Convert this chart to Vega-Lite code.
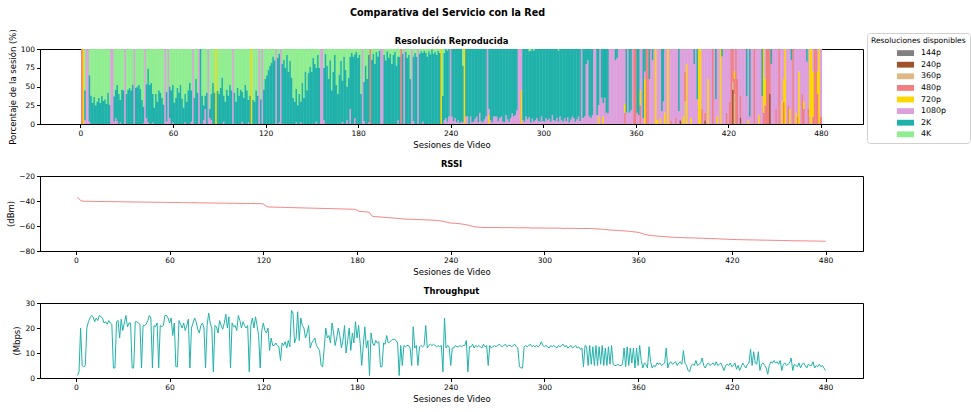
{
"$schema": "https://vega.github.io/schema/vega-lite/v6.json",
"padding": {"left": 6, "top": 7, "right": 0, "bottom": 0},
"bounds": "flush",
"spacing": 52,
"title": {"text": "Comparativa del Servicio con la Red", "fontSize": 9.6, "fontWeight": "bold", "font": "DejaVu Sans", "color": "#000", "anchor": "middle", "frame": "group", "offset": 11, "dx": -4},
"config": {
 "font": "DejaVu Sans",
 "view": {"stroke": "#000", "strokeWidth": 1},
 "axis": {"grid": false, "domainColor": "#000", "tickColor": "#000", "labelColor": "#000", "titleColor": "#000", "labelFontSize": 7.5, "titleFontSize": 8.5, "titleFontWeight": "normal", "tickSize": 3.5, "labelPadding": 2, "titlePadding": 3, "labelFont": "DejaVu Sans", "titleFont": "DejaVu Sans"},
 "title": {"font": "DejaVu Sans", "fontSize": 8.4, "fontWeight": "bold", "color": "#000", "offset": 4, "frame": "group"}
},
"datasets": {"orden": [
{"res":"144p","rank":1},{"res":"240p","rank":2},{"res":"360p","rank":3},{"res":"480p","rank":4},
{"res":"720p","rank":5},{"res":"1080p","rank":6},{"res":"2K","rank":7},{"res":"4K","rank":8}
]},
"data": {"values": [
{"s":1,"480p":100,"r":-37,"t":1},
{"s":2,"720p":100,"r":-38.2,"t":2.5},
{"s":3,"1080p":5,"2K":40,"4K":55,"r":-39.4,"t":20},
{"s":4,"1080p":100,"r":-40,"t":5},
{"s":5,"1080p":100,"r":-40.2,"t":4.5},
{"s":6,"1080p":3,"2K":62,"4K":35,"r":-40.2,"t":5},
{"s":7,"2K":38,"4K":62,"r":-40.2,"t":20},
{"s":8,"2K":28,"4K":72,"r":-40.2,"t":22.5},
{"s":9,"2K":36,"4K":64,"r":-40.3,"t":24},
{"s":10,"2K":25,"4K":75,"r":-40.3,"t":25},
{"s":11,"2K":30,"4K":70,"r":-40.3,"t":24.5},
{"s":12,"2K":35,"4K":65,"r":-40.3,"t":22.5},
{"s":13,"2K":28,"4K":72,"r":-40.4,"t":24},
{"s":14,"2K":38,"4K":62,"r":-40.4,"t":23},
{"s":15,"2K":31,"4K":69,"r":-40.4,"t":25},
{"s":16,"2K":33,"4K":67,"r":-40.4,"t":24.5},
{"s":17,"2K":27,"4K":73,"r":-40.4,"t":24},
{"s":18,"2K":42,"4K":58,"r":-40.4,"t":22},
{"s":19,"2K":26,"4K":74,"r":-40.5,"t":22.5},
{"s":20,"1080p":100,"r":-40.5,"t":21.5},
{"s":21,"1080p":100,"r":-40.5,"t":23},
{"s":22,"1080p":3,"2K":34,"4K":63,"r":-40.5,"t":22},
{"s":23,"1080p":8,"2K":38,"4K":54,"r":-40.5,"t":21.5},
{"s":24,"1080p":4,"2K":48,"4K":48,"r":-40.5,"t":4},
{"s":25,"2K":40,"4K":60,"r":-40.6,"t":4},
{"s":26,"1080p":2,"2K":30,"4K":68,"r":-40.6,"t":22.5},
{"s":27,"2K":46,"4K":54,"r":-40.6,"t":23},
{"s":28,"2K":45,"4K":55,"r":-40.6,"t":16},
{"s":29,"1080p":100,"r":-40.6,"t":23.5},
{"s":30,"2K":40,"4K":60,"r":-40.6,"t":19},
{"s":31,"2K":46,"4K":54,"r":-40.7,"t":22},
{"s":32,"2K":48,"4K":52,"r":-40.7,"t":25},
{"s":33,"2K":45,"4K":55,"r":-40.7,"t":20.5},
{"s":34,"2K":52,"4K":48,"r":-40.7,"t":22},
{"s":35,"1080p":100,"r":-40.7,"t":22},
{"s":36,"2K":48,"4K":52,"r":-40.7,"t":4},
{"s":37,"2K":50,"4K":50,"r":-40.8,"t":4},
{"s":38,"2K":52,"4K":48,"r":-40.8,"t":22.5},
{"s":39,"2K":47,"4K":53,"r":-40.8,"t":22.5},
{"s":40,"2K":32,"4K":68,"r":-40.8,"t":22},
{"s":41,"1080p":1,"2K":22,"4K":77,"r":-40.8,"t":21.5},
{"s":42,"1080p":100,"r":-40.8,"t":4},
{"s":43,"1080p":8,"2K":45,"4K":47,"r":-40.9,"t":21},
{"s":44,"1080p":2,"2K":72,"4K":26,"r":-40.9,"t":21},
{"s":45,"2K":52,"4K":48,"r":-40.9,"t":21.5},
{"s":46,"2K":55,"4K":45,"r":-40.9,"t":23},
{"s":47,"1080p":2,"2K":38,"4K":60,"r":-40.9,"t":25},
{"s":48,"2K":22,"4K":78,"r":-40.9,"t":24},
{"s":49,"2K":40,"4K":60,"r":-41,"t":4},
{"s":50,"2K":30,"4K":70,"r":-41,"t":21},
{"s":51,"2K":45,"4K":55,"r":-41,"t":20.5},
{"s":52,"2K":42,"4K":58,"r":-41,"t":22},
{"s":53,"2K":35,"4K":65,"r":-41,"t":4},
{"s":54,"2K":26,"4K":74,"r":-41,"t":21},
{"s":55,"1080p":100,"r":-41.1,"t":20.5},
{"s":56,"1080p":3,"2K":40,"4K":57,"r":-41.1,"t":21},
{"s":57,"1080p":100,"r":-41.1,"t":25},
{"s":58,"1080p":8,"2K":42,"4K":50,"r":-41.1,"t":25},
{"s":59,"2K":45,"4K":55,"r":-41.1,"t":24},
{"s":60,"1080p":2,"2K":50,"4K":48,"r":-41.1,"t":22},
{"s":61,"2K":28,"4K":72,"r":-41.2,"t":24},
{"s":62,"2K":35,"4K":65,"r":-41.2,"t":17},
{"s":63,"2K":48,"4K":52,"r":-41.2,"t":22},
{"s":64,"2K":42,"4K":58,"r":-41.2,"t":4.5},
{"s":65,"2K":52,"4K":48,"r":-41.2,"t":4.5},
{"s":66,"2K":34,"4K":66,"r":-41.2,"t":23},
{"s":67,"2K":22,"4K":78,"r":-41.3,"t":21.5},
{"s":68,"1080p":2,"2K":38,"4K":60,"r":-41.3,"t":20},
{"s":69,"2K":30,"4K":70,"r":-41.3,"t":22},
{"s":70,"2K":45,"4K":55,"r":-41.3,"t":19},
{"s":71,"2K":55,"4K":45,"r":-41.3,"t":21},
{"s":72,"1080p":3,"2K":42,"4K":55,"r":-41.3,"t":23.5},
{"s":73,"1080p":100,"r":-41.4,"t":4},
{"s":74,"2K":35,"4K":65,"r":-41.4,"t":20},
{"s":75,"2K":60,"4K":40,"r":-41.4,"t":22},
{"s":76,"2K":42,"4K":58,"r":-41.4,"t":24},
{"s":77,"1080p":100,"r":-41.4,"t":22.5},
{"s":78,"2K":100,"r":-41.4,"t":19.5},
{"s":79,"2K":38,"4K":62,"r":-41.5,"t":18},
{"s":80,"1080p":5,"2K":20,"4K":75,"r":-41.5,"t":21},
{"s":81,"1080p":20,"2K":18,"4K":62,"r":-41.5,"t":22},
{"s":82,"2K":42,"4K":58,"r":-41.5,"t":20},
{"s":83,"1080p":100,"r":-41.5,"t":4},
{"s":84,"1080p":8,"2K":12,"4K":80,"r":-41.5,"t":21},
{"s":85,"1080p":5,"2K":35,"4K":60,"r":-41.6,"t":26},
{"s":86,"2K":55,"4K":45,"r":-41.6,"t":22},
{"s":87,"2K":42,"4K":58,"r":-41.6,"t":20},
{"s":88,"720p":100,"r":-41.6,"t":2.5},
{"s":89,"2K":44,"4K":56,"r":-41.6,"t":21},
{"s":90,"2K":40,"4K":60,"r":-41.6,"t":20.5},
{"s":91,"2K":48,"4K":52,"r":-41.7,"t":18},
{"s":92,"2K":62,"4K":38,"r":-41.7,"t":23},
{"s":93,"1080p":3,"2K":35,"4K":62,"r":-41.7,"t":21},
{"s":94,"2K":30,"4K":70,"r":-41.7,"t":19.5},
{"s":95,"2K":46,"4K":54,"r":-41.7,"t":22},
{"s":96,"2K":38,"4K":62,"r":-41.7,"t":25.5},
{"s":97,"2K":52,"4K":48,"r":-41.8,"t":20},
{"s":98,"2K":45,"4K":55,"r":-41.8,"t":24.5},
{"s":99,"1080p":100,"r":-41.8,"t":4},
{"s":100,"2K":42,"4K":58,"r":-41.8,"t":22},
{"s":101,"2K":30,"4K":70,"r":-41.8,"t":20.5},
{"s":102,"2K":48,"4K":52,"r":-41.8,"t":21},
{"s":103,"2K":38,"4K":62,"r":-41.9,"t":19},
{"s":104,"2K":46,"4K":54,"r":-41.9,"t":25},
{"s":105,"1080p":3,"2K":40,"4K":57,"r":-41.9,"t":23},
{"s":106,"2K":35,"4K":65,"r":-41.9,"t":20},
{"s":107,"2K":52,"4K":48,"r":-41.9,"t":22.5},
{"s":108,"2K":45,"4K":55,"r":-41.9,"t":21},
{"s":109,"1080p":2,"2K":30,"4K":68,"r":-42,"t":20},
{"s":110,"2K":38,"4K":62,"r":-42,"t":21},
{"s":111,"720p":100,"r":-42,"t":2.5},
{"s":112,"2K":32,"4K":68,"r":-42,"t":21},
{"s":113,"2K":30,"4K":70,"r":-42,"t":24},
{"s":114,"2K":45,"4K":55,"r":-42,"t":20},
{"s":115,"2K":38,"4K":62,"r":-42.1,"t":24.5},
{"s":116,"1080p":100,"r":-42.1,"t":21},
{"s":117,"2K":33,"4K":67,"r":-42.1,"t":17},
{"s":118,"1080p":100,"r":-42.1,"t":4},
{"s":119,"2K":46,"4K":54,"r":-42.2,"t":19},
{"s":120,"2K":60,"4K":40,"r":-42.4,"t":22},
{"s":121,"2K":65,"4K":35,"r":-43.4,"t":19},
{"s":122,"2K":72,"4K":28,"r":-44.3,"t":18},
{"s":123,"2K":78,"4K":22,"r":-44.7,"t":20},
{"s":124,"2K":82,"4K":18,"r":-44.8,"t":11},
{"s":125,"2K":90,"4K":10,"r":-44.8,"t":16},
{"s":126,"2K":85,"4K":15,"r":-44.9,"t":13},
{"s":127,"1080p":100,"r":-44.9,"t":13},
{"s":128,"2K":88,"4K":12,"r":-44.9,"t":14},
{"s":129,"1080p":2,"2K":92,"4K":6,"r":-45,"t":13},
{"s":130,"1080p":100,"r":-45,"t":12.5},
{"s":131,"2K":80,"4K":20,"r":-45,"t":7},
{"s":132,"2K":86,"4K":14,"r":-45.1,"t":14},
{"s":133,"2K":75,"4K":25,"r":-45.1,"t":13},
{"s":134,"2K":92,"4K":8,"r":-45.1,"t":14.5},
{"s":135,"2K":70,"4K":30,"r":-45.2,"t":12},
{"s":136,"2K":84,"4K":16,"r":-45.2,"t":15},
{"s":137,"2K":62,"4K":38,"r":-45.2,"t":12.5},
{"s":138,"2K":35,"4K":65,"r":-45.3,"t":27},
{"s":139,"2K":30,"4K":70,"r":-45.3,"t":26},
{"s":140,"1080p":2,"2K":45,"4K":53,"r":-45.3,"t":14},
{"s":141,"2K":25,"4K":75,"r":-45.4,"t":16},
{"s":142,"2K":40,"4K":60,"r":-45.4,"t":26.5},
{"s":143,"1080p":2,"2K":28,"4K":70,"r":-45.4,"t":15},
{"s":144,"2K":55,"4K":45,"r":-45.5,"t":24},
{"s":145,"2K":35,"4K":65,"r":-45.5,"t":21},
{"s":146,"2K":70,"4K":30,"r":-45.5,"t":20},
{"s":147,"2K":45,"4K":55,"r":-45.6,"t":16},
{"s":148,"2K":68,"4K":32,"r":-45.6,"t":18},
{"s":149,"2K":76,"4K":24,"r":-45.6,"t":21},
{"s":150,"2K":70,"4K":30,"r":-45.7,"t":12},
{"s":151,"2K":88,"4K":12,"r":-45.7,"t":14},
{"s":152,"2K":80,"4K":20,"r":-45.7,"t":15},
{"s":153,"1080p":3,"2K":72,"4K":25,"r":-45.8,"t":16},
{"s":154,"2K":92,"4K":8,"r":-45.8,"t":13},
{"s":155,"2K":75,"4K":25,"r":-45.8,"t":12},
{"s":156,"1080p":100,"r":-45.9,"t":11},
{"s":157,"1080p":100,"r":-45.9,"t":5},
{"s":158,"1080p":5,"2K":70,"4K":25,"r":-45.9,"t":4.5},
{"s":159,"2K":94,"4K":6,"r":-46,"t":12},
{"s":160,"2K":78,"4K":22,"r":-46,"t":20},
{"s":161,"2K":60,"4K":40,"r":-46,"t":16},
{"s":162,"2K":85,"4K":15,"r":-46.1,"t":17},
{"s":163,"2K":45,"4K":55,"r":-46.1,"t":14},
{"s":164,"2K":70,"4K":30,"r":-46.1,"t":22},
{"s":165,"2K":92,"4K":8,"r":-46.2,"t":18},
{"s":166,"2K":52,"4K":48,"r":-46.2,"t":13},
{"s":167,"2K":40,"4K":60,"r":-46.2,"t":16},
{"s":168,"2K":66,"4K":34,"r":-46.3,"t":20},
{"s":169,"2K":84,"4K":16,"r":-46.3,"t":17},
{"s":170,"1080p":3,"2K":55,"4K":42,"r":-46.3,"t":12},
{"s":171,"2K":90,"4K":10,"r":-46.4,"t":15},
{"s":172,"2K":72,"4K":28,"r":-46.4,"t":21},
{"s":173,"1080p":5,"2K":45,"4K":50,"r":-46.4,"t":10},
{"s":174,"2K":62,"4K":38,"r":-46.5,"t":15},
{"s":175,"1080p":20,"2K":70,"4K":10,"r":-46.5,"t":20},
{"s":176,"2K":95,"4K":5,"r":-46.5,"t":11},
{"s":177,"2K":90,"4K":10,"r":-46.6,"t":18},
{"s":178,"1080p":8,"2K":85,"4K":7,"r":-46.6,"t":14},
{"s":179,"2K":96,"4K":4,"r":-46.7,"t":22.5},
{"s":180,"2K":88,"4K":12,"r":-47.4,"t":16},
{"s":181,"2K":92,"4K":8,"r":-48.1,"t":21},
{"s":182,"2K":40,"4K":60,"r":-48.3,"t":14},
{"s":183,"1080p":100,"r":-48.4,"t":5},
{"s":184,"1080p":4,"2K":52,"4K":44,"r":-48.5,"t":13},
{"s":185,"2K":78,"4K":22,"r":-48.6,"t":20.5},
{"s":186,"2K":60,"4K":40,"r":-48.7,"t":12},
{"s":187,"1080p":2,"2K":90,"4K":8,"r":-48.8,"t":15},
{"s":188,"480p":100,"r":-49.3,"t":1},
{"s":189,"2K":86,"4K":14,"r":-51.2,"t":18},
{"s":190,"2K":94,"4K":6,"r":-52.2,"t":14},
{"s":191,"2K":80,"4K":20,"r":-52.4,"t":13},
{"s":192,"2K":96,"4K":4,"r":-52.5,"t":15},
{"s":193,"2K":90,"4K":10,"r":-52.6,"t":14},
{"s":194,"2K":98,"4K":2,"r":-52.7,"t":14.5},
{"s":195,"1080p":100,"r":-52.8,"t":4.5},
{"s":196,"1080p":100,"r":-52.9,"t":4.5},
{"s":197,"2K":92,"4K":8,"r":-53,"t":14},
{"s":198,"2K":85,"4K":15,"r":-53.1,"t":13.5},
{"s":199,"2K":97,"4K":3,"r":-53.2,"t":17},
{"s":200,"2K":88,"4K":12,"r":-53.3,"t":14},
{"s":201,"2K":94,"4K":6,"r":-53.4,"t":14.5},
{"s":202,"2K":80,"4K":20,"r":-53.5,"t":15},
{"s":203,"2K":92,"4K":8,"r":-53.6,"t":15.5},
{"s":204,"2K":96,"4K":4,"r":-53.7,"t":15.5},
{"s":205,"2K":78,"4K":22,"r":-53.8,"t":15},
{"s":206,"1080p":5,"2K":85,"4K":10,"r":-53.9,"t":14},
{"s":207,"2K":90,"4K":10,"r":-54,"t":1},
{"s":208,"480p":100,"r":-54.1,"t":13},
{"s":209,"2K":94,"4K":6,"r":-54.3,"t":5},
{"s":210,"1080p":100,"r":-54.4,"t":13},
{"s":211,"2K":96,"4K":4,"r":-54.4,"t":12.5},
{"s":212,"2K":88,"4K":12,"r":-54.5,"t":13},
{"s":213,"2K":92,"4K":8,"r":-54.5,"t":13},
{"s":214,"2K":60,"4K":40,"r":-54.6,"t":12},
{"s":215,"1080p":100,"r":-54.6,"t":5},
{"s":216,"1080p":4,"2K":86,"4K":10,"r":-54.7,"t":20.5},
{"s":217,"2K":95,"4K":5,"r":-54.7,"t":12},
{"s":218,"2K":90,"4K":10,"r":-54.8,"t":13},
{"s":219,"1080p":100,"r":-54.8,"t":5},
{"s":220,"2K":94,"4K":6,"r":-54.9,"t":12.5},
{"s":221,"2K":97,"4K":3,"r":-54.9,"t":13},
{"s":222,"1080p":3,"2K":92,"4K":5,"r":-55,"t":12.5},
{"s":223,"2K":98,"4K":2,"r":-55,"t":13},
{"s":224,"2K":95,"4K":5,"r":-55.1,"t":21},
{"s":225,"2K":90,"4K":10,"r":-55.1,"t":12},
{"s":226,"2K":97,"4K":3,"r":-55.2,"t":13},
{"s":227,"2K":93,"4K":7,"r":-55.2,"t":13.5},
{"s":228,"2K":99,"4K":1,"r":-55.3,"t":13},
{"s":229,"2K":94,"4K":6,"r":-55.4,"t":13.5},
{"s":230,"2K":96,"4K":4,"r":-55.5,"t":13},
{"s":231,"2K":92,"4K":8,"r":-55.6,"t":12.5},
{"s":232,"2K":98,"4K":2,"r":-55.7,"t":13},
{"s":233,"2K":95,"4K":5,"r":-55.8,"t":12.5},
{"s":234,"720p":100,"r":-56,"t":13},
{"s":235,"2K":38,"4K":62,"r":-56.2,"t":2.5},
{"s":236,"1080p":5,"2K":90,"4K":5,"r":-56.5,"t":24},
{"s":237,"1080p":8,"2K":92,"r":-56.8,"t":12},
{"s":238,"1080p":3,"2K":95,"4K":2,"r":-57.1,"t":13},
{"s":239,"1080p":10,"2K":90,"r":-57.4,"t":12.5},
{"s":240,"1080p":100,"r":-57.6,"t":5},
{"s":241,"1080p":10,"2K":90,"r":-57.7,"t":12},
{"s":242,"1080p":4,"2K":96,"r":-57.8,"t":12},
{"s":243,"1080p":8,"2K":92,"r":-57.9,"t":13},
{"s":244,"1080p":2,"2K":98,"r":-58,"t":12.5},
{"s":245,"1080p":5,"2K":95,"r":-58.1,"t":12.5},
{"s":246,"1080p":1,"2K":99,"r":-58.2,"t":13},
{"s":247,"1080p":3,"2K":97,"r":-58.4,"t":12.5},
{"s":248,"1080p":2,"2K":76,"4K":22,"r":-58.6,"t":13},
{"s":249,"720p":100,"r":-58.8,"t":13},
{"s":250,"1080p":10,"2K":90,"r":-59,"t":15},
{"s":251,"1080p":10,"2K":90,"r":-59.3,"t":2.5},
{"s":252,"2K":100,"r":-59.6,"t":12.5},
{"s":253,"1080p":10,"2K":90,"r":-59.9,"t":12.5},
{"s":254,"1080p":2,"2K":98,"r":-60.2,"t":13.5},
{"s":255,"1080p":3,"2K":97,"r":-60.5,"t":12},
{"s":256,"1080p":7,"2K":93,"r":-60.7,"t":13},
{"s":257,"1080p":10,"2K":90,"r":-60.8,"t":12.5},
{"s":258,"1080p":2,"2K":98,"r":-60.9,"t":13},
{"s":259,"1080p":15,"2K":85,"r":-61,"t":12.5},
{"s":260,"1080p":4,"2K":96,"r":-61.1,"t":12},
{"s":261,"1080p":2,"2K":98,"r":-61.2,"t":13.5},
{"s":262,"1080p":6,"2K":94,"r":-61.2,"t":12.5},
{"s":263,"1080p":10,"2K":90,"r":-61.2,"t":13},
{"s":264,"1080p":100,"r":-61.2,"t":5},
{"s":265,"720p":12,"1080p":8,"2K":80,"r":-61.2,"t":13},
{"s":266,"1080p":5,"2K":95,"r":-61.2,"t":12},
{"s":267,"1080p":2,"2K":98,"r":-61.2,"t":12.5},
{"s":268,"1080p":10,"2K":90,"r":-61.2,"t":13},
{"s":269,"1080p":10,"2K":90,"r":-61.2,"t":12.5},
{"s":270,"1080p":10,"2K":90,"r":-61.2,"t":13},
{"s":271,"1080p":4,"2K":96,"r":-61.3,"t":13.5},
{"s":272,"1080p":8,"2K":92,"r":-61.3,"t":13},
{"s":273,"1080p":10,"2K":90,"r":-61.3,"t":12.5},
{"s":274,"1080p":3,"2K":97,"r":-61.3,"t":13},
{"s":275,"1080p":2,"2K":98,"r":-61.3,"t":13.5},
{"s":276,"1080p":12,"2K":88,"r":-61.3,"t":12.5},
{"s":277,"1080p":6,"2K":94,"r":-61.3,"t":13},
{"s":278,"1080p":3,"2K":97,"r":-61.3,"t":13},
{"s":279,"1080p":8,"2K":92,"r":-61.3,"t":12.5},
{"s":280,"1080p":14,"2K":86,"r":-61.3,"t":13},
{"s":281,"1080p":10,"2K":90,"r":-61.4,"t":13.5},
{"s":282,"1080p":12,"2K":88,"r":-61.4,"t":12.5},
{"s":283,"1080p":18,"2K":82,"r":-61.4,"t":12},
{"s":284,"1080p":100,"r":-61.4,"t":4.5},
{"s":285,"1080p":100,"r":-61.4,"t":4},
{"s":286,"720p":45,"1080p":55,"r":-61.4,"t":4},
{"s":287,"1080p":5,"2K":95,"r":-61.4,"t":12.5},
{"s":288,"1080p":3,"2K":97,"r":-61.4,"t":13},
{"s":289,"1080p":10,"2K":90,"r":-61.4,"t":12.5},
{"s":290,"1080p":6,"2K":94,"r":-61.4,"t":13},
{"s":291,"1080p":9,"2K":88,"4K":3,"r":-61.6,"t":13.5},
{"s":292,"1080p":2,"2K":96,"4K":2,"r":-61.6,"t":12.5},
{"s":293,"1080p":7,"2K":93,"r":-61.6,"t":13},
{"s":294,"1080p":3,"2K":95,"4K":2,"r":-61.6,"t":12.5},
{"s":295,"1080p":5,"2K":95,"r":-61.6,"t":13},
{"s":296,"1080p":8,"2K":92,"r":-61.6,"t":12.5},
{"s":297,"1080p":4,"2K":96,"r":-61.6,"t":13},
{"s":298,"1080p":3,"2K":97,"r":-61.6,"t":14.5},
{"s":299,"1080p":10,"2K":90,"r":-61.6,"t":13},
{"s":300,"1080p":4,"2K":96,"r":-61.6,"t":12.5},
{"s":301,"1080p":3,"2K":97,"r":-61.7,"t":13},
{"s":302,"1080p":8,"2K":92,"r":-61.7,"t":12.5},
{"s":303,"1080p":5,"2K":95,"r":-61.7,"t":12},
{"s":304,"1080p":7,"2K":93,"r":-61.7,"t":13},
{"s":305,"1080p":3,"2K":97,"r":-61.7,"t":12.5},
{"s":306,"1080p":12,"2K":88,"r":-61.7,"t":13},
{"s":307,"1080p":5,"2K":95,"r":-61.7,"t":12.5},
{"s":308,"1080p":4,"2K":96,"r":-61.7,"t":12},
{"s":309,"1080p":8,"2K":92,"r":-61.7,"t":13},
{"s":310,"1080p":3,"2K":95,"4K":2,"r":-61.7,"t":12.5},
{"s":311,"1080p":10,"2K":90,"r":-61.9,"t":13},
{"s":312,"1080p":5,"2K":95,"r":-61.9,"t":13.5},
{"s":313,"1080p":3,"2K":97,"r":-61.9,"t":12.5},
{"s":314,"1080p":8,"2K":92,"r":-61.9,"t":13},
{"s":315,"1080p":4,"2K":96,"r":-61.9,"t":12},
{"s":316,"1080p":9,"2K":91,"r":-61.9,"t":12.5},
{"s":317,"1080p":2,"2K":98,"r":-61.9,"t":13},
{"s":318,"1080p":6,"2K":94,"r":-61.9,"t":12},
{"s":319,"1080p":10,"2K":90,"r":-61.9,"t":12.5},
{"s":320,"1080p":8,"2K":92,"r":-61.9,"t":13},
{"s":321,"1080p":3,"2K":97,"r":-62,"t":12},
{"s":322,"1080p":6,"2K":94,"r":-62,"t":12.5},
{"s":323,"1080p":10,"2K":90,"r":-62,"t":11.5},
{"s":324,"1080p":4,"2K":96,"r":-62,"t":12},
{"s":325,"1080p":100,"r":-62,"t":4.5},
{"s":326,"1080p":8,"2K":92,"r":-62,"t":13},
{"s":327,"1080p":10,"2K":90,"r":-62,"t":12.5},
{"s":328,"1080p":80,"2K":20,"r":-62,"t":5},
{"s":329,"1080p":85,"2K":15,"r":-62,"t":13},
{"s":330,"1080p":10,"2K":90,"r":-62,"t":5.5},
{"s":331,"1080p":8,"2K":92,"r":-62.1,"t":12.5},
{"s":332,"1080p":12,"2K":88,"r":-62.2,"t":5},
{"s":333,"1080p":100,"r":-62.3,"t":13},
{"s":334,"1080p":100,"r":-62.3,"t":5},
{"s":335,"1080p":12,"2K":88,"r":-62.4,"t":12.5},
{"s":336,"720p":10,"1080p":15,"2K":75,"r":-62.5,"t":5.5},
{"s":337,"1080p":100,"r":-62.6,"t":13},
{"s":338,"1080p":35,"2K":65,"r":-62.7,"t":5},
{"s":339,"720p":10,"1080p":18,"2K":72,"r":-62.8,"t":12},
{"s":340,"1080p":35,"2K":65,"r":-62.9,"t":5},
{"s":341,"1080p":15,"2K":85,"r":-63,"t":12.5},
{"s":342,"1080p":14,"2K":86,"r":-63.2,"t":5.5},
{"s":343,"1080p":100,"r":-63.3,"t":13},
{"s":344,"1080p":100,"r":-63.4,"t":5.5},
{"s":345,"1080p":100,"r":-63.4,"t":5},
{"s":346,"1080p":100,"r":-63.5,"t":5},
{"s":347,"1080p":85,"2K":15,"r":-63.6,"t":5.5},
{"s":348,"1080p":88,"2K":12,"r":-63.7,"t":5},
{"s":349,"1080p":100,"r":-63.7,"t":5},
{"s":350,"1080p":100,"r":-63.8,"t":5.5},
{"s":351,"1080p":100,"r":-63.9,"t":12},
{"s":352,"1080p":100,"r":-64,"t":4.5},
{"s":353,"480p":15,"720p":12,"1080p":73,"r":-64.1,"t":12.5},
{"s":354,"1080p":15,"2K":85,"r":-64.2,"t":5},
{"s":355,"1080p":100,"r":-64.4,"t":12},
{"s":356,"1080p":15,"2K":85,"r":-64.5,"t":6},
{"s":357,"1080p":18,"2K":82,"r":-64.6,"t":12},
{"s":358,"1080p":100,"r":-64.8,"t":4},
{"s":359,"480p":100,"r":-64.9,"t":12},
{"s":360,"480p":100,"r":-65.1,"t":5},
{"s":361,"1080p":15,"2K":85,"r":-65.4,"t":13},
{"s":362,"1080p":12,"2K":88,"r":-65.8,"t":7},
{"s":363,"480p":25,"720p":20,"1080p":55,"r":-66.2,"t":4},
{"s":364,"1080p":100,"r":-66.6,"t":6},
{"s":365,"1080p":8,"2K":92,"r":-66.9,"t":5.5},
{"s":366,"720p":60,"1080p":10,"2K":30,"r":-67.2,"t":4},
{"s":367,"480p":100,"r":-67.4,"t":12.5},
{"s":368,"480p":100,"r":-67.5,"t":6.5},
{"s":369,"1080p":60,"2K":40,"r":-67.7,"t":4},
{"s":370,"1080p":100,"r":-67.8,"t":5},
{"s":371,"1080p":85,"2K":15,"r":-67.9,"t":4.5},
{"s":372,"1080p":100,"r":-68,"t":6},
{"s":373,"720p":100,"r":-68.1,"t":5.5},
{"s":374,"720p":5,"1080p":95,"r":-68.2,"t":6},
{"s":375,"1080p":100,"r":-68.3,"t":5},
{"s":376,"720p":8,"1080p":92,"r":-68.4,"t":5.5},
{"s":377,"1080p":17,"2K":83,"r":-68.5,"t":6},
{"s":378,"1080p":30,"2K":70,"r":-68.6,"t":12},
{"s":379,"720p":15,"1080p":85,"r":-68.7,"t":4},
{"s":380,"1080p":100,"r":-68.8,"t":6},
{"s":381,"720p":100,"r":-68.9,"t":6.5},
{"s":382,"1080p":100,"r":-69,"t":5.5},
{"s":383,"480p":5,"1080p":95,"r":-69,"t":6},
{"s":384,"1080p":100,"r":-69.1,"t":6.5},
{"s":385,"1080p":100,"r":-69.1,"t":5},
{"s":386,"480p":8,"1080p":92,"r":-69.2,"t":6},
{"s":387,"1080p":100,"r":-69.2,"t":6.5},
{"s":388,"1080p":17,"2K":83,"r":-69.3,"t":5.5},
{"s":389,"240p":5,"1080p":95,"r":-69.3,"t":11},
{"s":390,"1080p":100,"r":-69.4,"t":6},
{"s":391,"720p":10,"1080p":90,"r":-69.4,"t":5},
{"s":392,"360p":30,"480p":40,"1080p":30,"r":-69.4,"t":3},
{"s":393,"720p":80,"1080p":20,"r":-69.5,"t":2.5},
{"s":394,"1080p":100,"r":-69.5,"t":5},
{"s":395,"1080p":100,"r":-69.5,"t":5.5},
{"s":396,"720p":8,"1080p":92,"r":-69.6,"t":5},
{"s":397,"1080p":100,"r":-69.6,"t":7},
{"s":398,"1080p":80,"2K":20,"r":-69.7,"t":5},
{"s":399,"1080p":100,"r":-69.7,"t":5.5},
{"s":400,"1080p":33,"2K":67,"r":-69.8,"t":6},
{"s":401,"720p":100,"r":-69.8,"t":8},
{"s":402,"720p":100,"r":-69.8,"t":5},
{"s":403,"480p":20,"1080p":80,"r":-69.9,"t":4},
{"s":404,"1080p":100,"r":-69.9,"t":5.5},
{"s":405,"240p":5,"480p":10,"1080p":85,"r":-70,"t":6},
{"s":406,"1080p":100,"r":-70,"t":5},
{"s":407,"720p":60,"1080p":40,"r":-70.1,"t":5.5},
{"s":408,"1080p":100,"r":-70.1,"t":6},
{"s":409,"1080p":100,"r":-70.2,"t":5},
{"s":410,"480p":100,"r":-70.2,"t":6.5},
{"s":411,"1080p":100,"r":-70.3,"t":5},
{"s":412,"1080p":33,"2K":67,"r":-70.3,"t":5.5},
{"s":413,"720p":10,"1080p":90,"r":-70.4,"t":6},
{"s":414,"1080p":100,"r":-70.4,"t":4.5},
{"s":415,"720p":100,"r":-70.5,"t":3},
{"s":416,"1080p":90,"2K":10,"r":-70.5,"t":5},
{"s":417,"1080p":100,"r":-70.6,"t":5.5},
{"s":418,"1080p":100,"r":-70.7,"t":5},
{"s":419,"480p":15,"1080p":85,"r":-70.8,"t":6},
{"s":420,"1080p":100,"r":-70.8,"t":4.5},
{"s":421,"480p":30,"1080p":70,"r":-70.8,"t":5},
{"s":422,"480p":100,"r":-70.8,"t":6},
{"s":423,"240p":46,"360p":10,"480p":44,"r":-70.9,"t":3.5},
{"s":424,"360p":40,"480p":20,"720p":10,"1080p":30,"r":-70.9,"t":5},
{"s":425,"480p":100,"r":-70.9,"t":3},
{"s":426,"480p":60,"1080p":40,"r":-70.9,"t":4.5},
{"s":427,"1080p":100,"r":-71,"t":6},
{"s":428,"240p":8,"480p":30,"1080p":62,"r":-71,"t":5},
{"s":429,"1080p":100,"r":-71,"t":4},
{"s":430,"1080p":100,"r":-71,"t":5.5},
{"s":431,"1080p":100,"r":-71.1,"t":6},
{"s":432,"1080p":37,"2K":63,"r":-71.1,"t":11.5},
{"s":433,"720p":5,"1080p":95,"r":-71.1,"t":5},
{"s":434,"1080p":10,"2K":90,"r":-71.1,"t":10.5},
{"s":435,"1080p":100,"r":-71.2,"t":6},
{"s":436,"1080p":100,"r":-71.2,"t":5.5},
{"s":437,"480p":100,"r":-71.2,"t":10.5},
{"s":438,"1080p":100,"r":-71.2,"t":3},
{"s":439,"1080p":100,"r":-71.3,"t":5.5},
{"s":440,"720p":12,"1080p":88,"r":-71.3,"t":6},
{"s":441,"1080p":100,"r":-71.3,"t":5},
{"s":442,"1080p":37,"2K":63,"r":-71.3,"t":4},
{"s":443,"480p":15,"720p":85,"r":-71.4,"t":1.5},
{"s":444,"480p":25,"720p":35,"1080p":40,"r":-71.4,"t":5},
{"s":445,"480p":100,"r":-71.4,"t":6.5},
{"s":446,"480p":100,"r":-71.4,"t":6},
{"s":447,"240p":40,"480p":60,"r":-71.5,"t":7},
{"s":448,"1080p":80,"2K":20,"r":-71.5,"t":6},
{"s":449,"1080p":100,"r":-71.5,"t":6.5},
{"s":450,"1080p":100,"r":-71.5,"t":5.5},
{"s":451,"480p":20,"1080p":80,"r":-71.6,"t":7},
{"s":452,"1080p":100,"r":-71.6,"t":3},
{"s":453,"480p":100,"r":-71.6,"t":5.5},
{"s":454,"1080p":100,"r":-71.6,"t":6},
{"s":455,"720p":30,"1080p":70,"r":-71.7,"t":5},
{"s":456,"480p":30,"720p":30,"1080p":40,"r":-71.7,"t":5.5},
{"s":457,"720p":100,"r":-71.7,"t":6},
{"s":458,"1080p":100,"r":-71.7,"t":8},
{"s":459,"480p":25,"1080p":75,"r":-71.8,"t":3},
{"s":460,"720p":20,"1080p":80,"r":-71.8,"t":5.5},
{"s":461,"1080p":85,"2K":15,"r":-71.8,"t":5},
{"s":462,"480p":100,"r":-71.8,"t":4.5},
{"s":463,"1080p":100,"r":-71.8,"t":6},
{"s":464,"720p":15,"1080p":85,"r":-71.9,"t":4},
{"s":465,"480p":10,"1080p":90,"r":-71.9,"t":5.5},
{"s":466,"720p":70,"1080p":30,"r":-71.9,"t":6},
{"s":467,"1080p":100,"r":-71.9,"t":5},
{"s":468,"480p":40,"1080p":60,"r":-71.9,"t":4},
{"s":469,"480p":20,"720p":10,"1080p":70,"r":-72,"t":5.5},
{"s":470,"1080p":100,"r":-72,"t":5},
{"s":471,"1080p":83,"2K":17,"r":-72,"t":5},
{"s":472,"480p":20,"1080p":80,"r":-72,"t":6.5},
{"s":473,"360p":10,"720p":90,"r":-72,"t":4},
{"s":474,"720p":100,"r":-72.1,"t":5},
{"s":475,"480p":10,"720p":60,"1080p":30,"r":-72.1,"t":4.5},
{"s":476,"480p":100,"r":-72.1,"t":5.5},
{"s":477,"480p":100,"r":-72.1,"t":4.5},
{"s":478,"480p":40,"720p":30,"1080p":30,"r":-72.2,"t":5},
{"s":479,"720p":100,"r":-72.2,"t":4},
{"s":480,"480p":10,"1080p":90,"r":-72.2,"t":3}
]},
"vconcat": [
{
 "width": 823, "height": 75,
 "title": {"text": "Resolución Reproducida", "dy": 21},
 "transform": [
  {"fold": ["144p","240p","360p","480p","720p","1080p","2K","4K"], "as": ["res","pct"]},
  {"filter": "isValid(datum.pct) && datum.pct > 0"},
  {"lookup": "res", "from": {"data": {"name": "orden"}, "key": "res", "fields": ["rank"]}}
 ],
 "mark": {"type": "bar", "width": 2},
 "encoding": {
  "x": {"field": "s", "type": "quantitative", "scale": {"domain": [-23, 504], "nice": false, "zero": false}, "axis": {"values": [0,60,120,180,240,300,360,420,480], "title": "Sesiones de Video"}},
  "y": {"field": "pct", "type": "quantitative", "stack": "zero", "scale": {"domain": [0, 100], "nice": false}, "axis": {"values": [0,25,50,75,100], "title": "Porcentaje de la sesión (%)"}},
  "order": {"field": "rank", "type": "quantitative", "sort": "ascending"},
  "color": {"field": "res", "type": "nominal",
   "scale": {"domain": ["144p","240p","360p","480p","720p","1080p","2K","4K"], "range": ["#808080","#a0522d","#deb887","#f08080","#ffd700","#dda0dd","#20b2aa","#90ee90"]},
   "legend": {"title": "Resoluciones disponibles", "orient": "none", "legendX": 827, "legendY": -16,
    "titleFontSize": 7.6, "titleFontWeight": "normal", "titleColor": "#000", "titlePadding": 4, "titleFont": "DejaVu Sans",
    "labelFontSize": 7.9, "labelColor": "#000", "labelFont": "DejaVu Sans",
    "symbolType": "M-1.9,-0.65H1.9V0.65H-1.9Z", "symbolSize": 81, "symbolStrokeWidth": 0, "symbolOpacity": 1,
    "symbolOffset": 30, "labelOffset": 11, "rowPadding": 2.6,
    "padding": 4, "strokeColor": "#d0d0d0", "fillColor": "white", "cornerRadius": 3}}
 }
},
{
 "width": 823, "height": 75,
 "title": {"text": "RSSI"},
 "mark": {"type": "line", "color": "#f08080", "strokeWidth": 1},
 "encoding": {
  "x": {"field": "s", "type": "quantitative", "scale": {"domain": [-23, 504], "nice": false, "zero": false}, "axis": {"values": [0,60,120,180,240,300,360,420,480], "title": "Sesiones de Video"}},
  "y": {"field": "r", "type": "quantitative", "scale": {"domain": [-80, -20], "nice": false, "zero": false}, "axis": {"values": [-80,-60,-40,-20], "title": "(dBm)"}}
 }
},
{
 "width": 823, "height": 75,
 "title": {"text": "Throughput"},
 "mark": {"type": "line", "color": "#20b2aa", "strokeWidth": 1},
 "encoding": {
  "x": {"field": "s", "type": "quantitative", "scale": {"domain": [-23, 504], "nice": false, "zero": false}, "axis": {"values": [0,60,120,180,240,300,360,420,480], "title": "Sesiones de Video"}},
  "y": {"field": "t", "type": "quantitative", "scale": {"domain": [0, 30], "nice": false}, "axis": {"values": [0,10,20,30], "title": "(Mbps)"}}
 }
}
]
}
